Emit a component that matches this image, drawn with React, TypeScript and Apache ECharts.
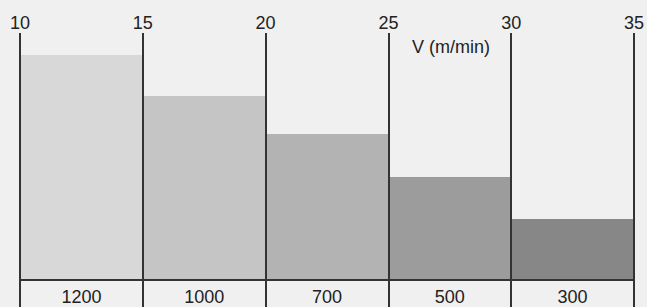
import React, { useEffect, useRef } from "react";
import * as echarts from "echarts";

// Speed ranges V (m/min) — bar boundaries on the top axis
const speedStart = [10, 15, 20, 25, 30];
const speedEnd = [15, 20, 25, 30, 35];
// Relative bar heights
const barHeights = [225, 184, 146, 103, 61];
// Strength labels N/mm² under the bars
const strengthLabels = ["1200", "1000", "700", "500", "300"];
const barColors = ["#d8d8d8", "#c5c5c5", "#b3b3b3", "#9c9c9c", "#878787"];
const topTicks = [10, 15, 20, 25, 30, 35];

const FONT = "'Liberation Sans', Arial, sans-serif";

export default function App() {
  const ref = useRef<HTMLDivElement>(null);
  useEffect(() => {
    if (!ref.current) return;
    const chart = echarts.init(ref.current, null, { renderer: "svg" });
    const data = speedStart.map((s, i) => [s, speedEnd[i], barHeights[i], strengthLabels[i], i]);
    chart.setOption({
      animation: false,
      backgroundColor: "#f0f0f0",
      grid: { left: 20, right: 11, top: 33, bottom: 0 },
      xAxis: {
        type: "value",
        position: "top",
        min: topTicks[0],
        max: topTicks[topTicks.length - 1],
        interval: 5,
        z: 5,
        axisLine: { show: false },
        axisTick: { show: false },
        axisLabel: { fontSize: 18, color: "#222", fontFamily: FONT, margin: 1 },
        splitLine: { show: true, lineStyle: { color: "#333", width: 2 } },
      },
      yAxis: {
        type: "value",
        min: -27,
        max: 247,
        show: false,
        splitLine: { show: false },
      },
      series: [
        {
          type: "custom",
          data,
          renderItem: (params: any, api: any) => {
            const s = api.value(0);
            const e = api.value(1);
            const h = api.value(2);
            const idx = api.value(4);
            const p0 = api.coord([s, h]);
            const p1 = api.coord([e, 0]);
            const pl = api.coord([(s + e) / 2, -17]);
            return {
              type: "group",
              children: [
                {
                  type: "rect",
                  shape: { x: p0[0], y: p0[1], width: p1[0] - p0[0], height: p1[1] - p0[1] },
                  style: { fill: barColors[idx] },
                },
                {
                  type: "text",
                  x: pl[0],
                  y: pl[1],
                  style: {
                    text: strengthLabels[idx],
                    fontSize: 18,
                    fontFamily: FONT,
                    fill: "#222",
                    align: "center",
                    verticalAlign: "middle",
                  },
                },
              ],
            };
          },
          markLine: {
            silent: true,
            symbol: "none",
            label: { show: false },
            lineStyle: { color: "#333", width: 2, type: "solid" },
            data: [{ yAxis: 0 }],
          },
        },
      ],
      graphic: [
        {
          type: "text",
          x: 451,
          y: 47,
          style: {
            text: "V (m/min)",
            fontSize: 18,
            fontFamily: FONT,
            fill: "#222",
            align: "center",
            verticalAlign: "middle",
          },
        },
        {
          type: "text",
          x: 204,
          y: 242,
          style: {
            text: "N/mm²",
            fontSize: 18,
            fontFamily: FONT,
            fill: "#222",
            align: "center",
            verticalAlign: "middle",
          },
        },
      ],
    });
    return () => chart.dispose();
  }, []);
  return (
    <div
      ref={ref}
      style={{ position: "absolute", left: 0, top: 0, width: 647, height: 307 }}
    />
  );
}
